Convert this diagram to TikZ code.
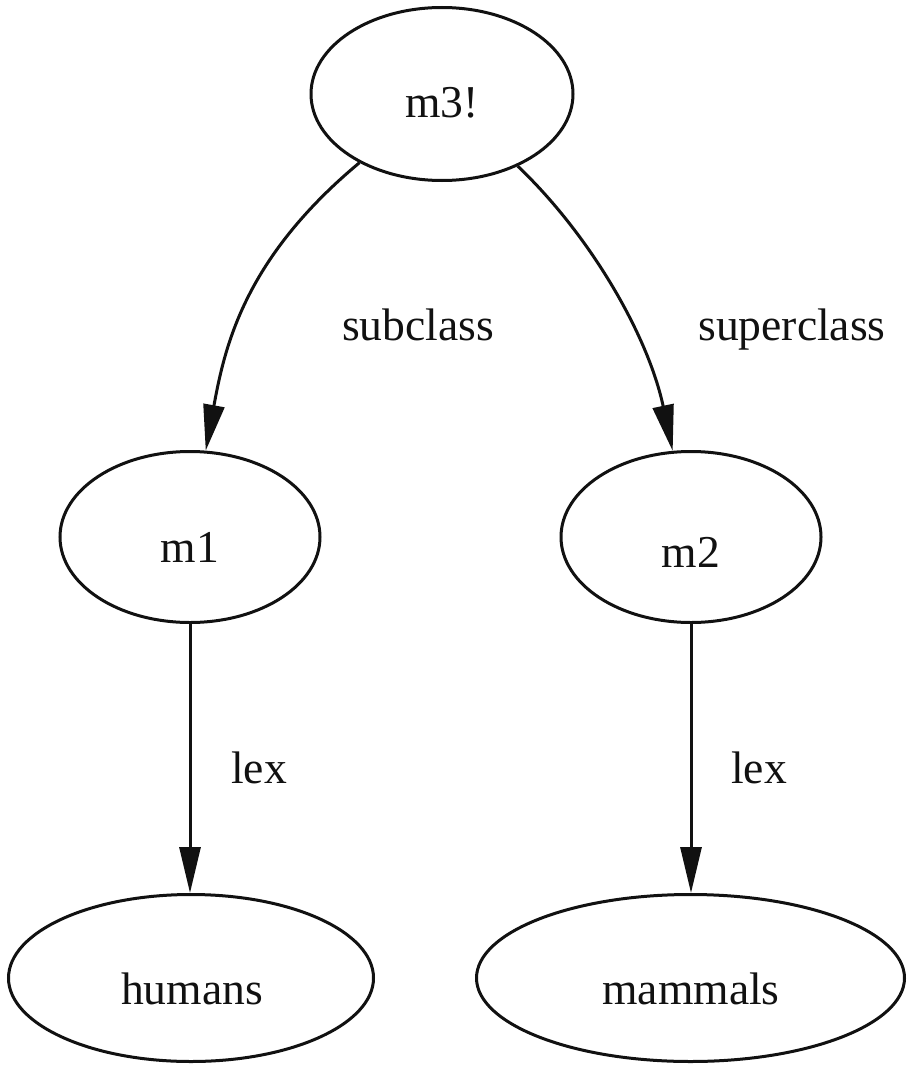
\documentclass[tikz,border=0pt]{standalone}
\usepackage{fontspec}
\setmainfont{Liberation Serif}
\usetikzlibrary{shapes.geometric,arrows.meta}
\definecolor{ink}{HTML}{111111}
\begin{document}
\begin{tikzpicture}[x=0.5pt,y=-0.5pt,
  ell/.style={ellipse,draw=ink,line width=1.5pt,inner sep=0pt},
  txt/.style={anchor=base,inner sep=0pt,text=ink,font=\fontsize{22.8}{27}\selectfont},
  edge/.style={draw=ink,line width=1.5pt,-{Triangle[length=23pt,width=10.5pt]}}]
\useasboundingbox (0,0) rectangle (908,1065);
\node[ell,minimum width=262pt*0.5,minimum height=173pt*0.5] (m3) at (442,94) {};
\node[ell,minimum width=260pt*0.5,minimum height=171pt*0.5] (m1) at (190,537) {};
\node[ell,minimum width=260pt*0.5,minimum height=171pt*0.5] (m2) at (691,537) {};
\node[ell,minimum width=365pt*0.5,minimum height=167pt*0.5] (humans) at (191,978) {};
\node[ell,minimum width=428pt*0.5,minimum height=167pt*0.5] (mammals) at (690.5,978) {};
\node[txt] (tm3) at (442,118) {m3!};
\node[txt] (tm1) at (190,562) {m1};
\node[txt] (tm2) at (691,567) {m2};
\node[txt] (thumans) at (192,1004) {humans};
\node[txt] (tmammals) at (691,1004) {mammals};
\coordinate (c1) at (245,258);
\coordinate (c2) at (225,345);
\coordinate (c3) at (590,235);
\coordinate (c4) at (648,335);
\draw[edge] (m3) .. controls (c1) and (c2) .. (m1);
\draw[edge] (m3) .. controls (c3) and (c4) .. (m2);
\draw[edge] (m1) -- (m1 |- humans.north);
\draw[edge] (m2) -- (m2 |- mammals.north);
\node[txt] (lsub) at (418,340) {subclass};
\node[txt] (lsup) at (792,340) {superclass};
\node[txt] (llex1) at (259,783) {lex};
\node[txt] (llex2) at (759,783) {lex};
\end{tikzpicture}
\end{document}
